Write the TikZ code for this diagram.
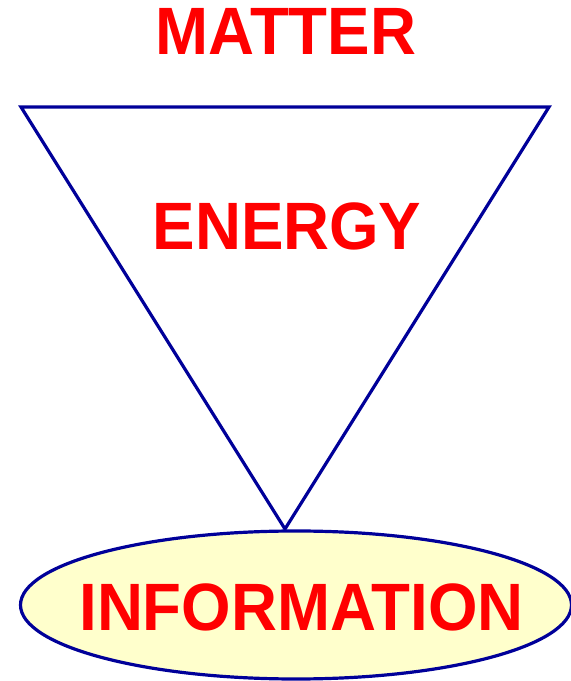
\documentclass[tikz,border=0pt]{standalone}
\usepackage{fontspec}
\usetikzlibrary{shapes.geometric}
\newfontfamily\lblfont[FakeStretch=0.95]{Liberation Sans}
\definecolor{lblred}{HTML}{FF0000}
\definecolor{edgeblue}{HTML}{000099}
\definecolor{fillyellow}{HTML}{FFFFCC}
\begin{document}
\begin{tikzpicture}[x=1pt,y=1pt,
  lbl/.style={inner sep=0pt, text=lblred, font=\lblfont\bfseries\fontsize{67}{72}\selectfont},
  edge/.style={draw=edgeblue, line width=3.2pt, line join=miter}]
\useasboundingbox (0,0) rectangle (571,681);
\coordinate (tl) at (21,574);
\coordinate (tr) at (549,574);
\coordinate (bt) at (285,152);
\draw[edge] (tl) -- (tr) -- (bt) -- cycle;
\node[edge, ellipse, fill=fillyellow, minimum width=551pt, minimum height=148pt, inner sep=0pt] (info) at (296,76) {};
\node[lbl] (infotext) at (301.5,74) {INFORMATION};
\node[lbl] (matter) at (286,649.5) {MATTER};
\node[lbl] (energy) at (287,454.5) {ENERGY};
\end{tikzpicture}
\end{document}
